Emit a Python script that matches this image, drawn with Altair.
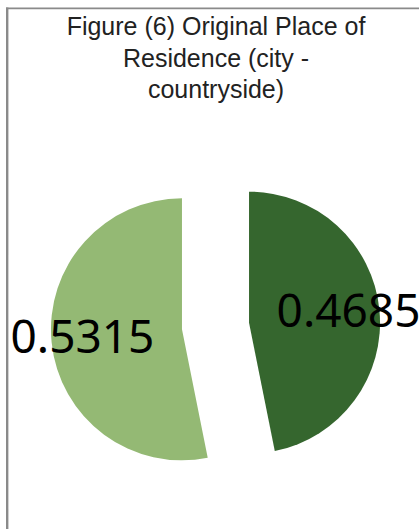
import altair as alt
import pandas as pd

categories = ["City", "Countryside"]
values = [0.4685, 0.5315]
title_lines = ["Figure (6) Original Place of", "Residence (city -", "countryside)"]

df = pd.DataFrame({"category": categories, "value": values})
title_df = pd.DataFrame({"line": title_lines})

CX, CY = 215.5, 326      # pie centre
EXPLODE = 33.7           # slice explosion distance
R = 131                  # pie radius
LR = 100                 # label distance from slice vertex
TX, TY, TLH = 216, 35, 31.5   # title centre x, first baseline, line height

base = alt.Chart(df).transform_window(
    idx="row_number()"
).transform_window(
    cum="sum(value)", sort=[alt.SortField("idx")], frame=[None, 0]
).transform_calculate(
    start="datum.cum - datum.value",
    mid="(datum.cum - datum.value / 2) * 2 * PI",
).transform_calculate(
    cx=f"{CX} + {EXPLODE} * sin(datum.mid)",
    cy=f"{CY} - {EXPLODE} * cos(datum.mid)",
).transform_calculate(
    lx=f"datum.cx + {LR} * sin(datum.mid)",
    ly=f"datum.cy - {LR} * cos(datum.mid)",
)

arcs = base.mark_arc(outerRadius=R, stroke=None).encode(
    x=alt.X("cx:Q", scale=None),
    y=alt.Y("cy:Q", scale=None),
    theta=alt.Theta("start:Q", scale=alt.Scale(domain=[0, 1], range=[0, 6.283185307])),
    theta2=alt.Theta2("cum:Q"),
    color=alt.Color("category:N", scale=alt.Scale(domain=categories, range=["#35662E", "#94B974"]), legend=None),
)

labels = base.mark_text(font="Noto Sans", fontSize=46, color="#000000", align="center", baseline="middle").encode(
    x=alt.X("lx:Q", scale=None),
    y=alt.Y("ly:Q", scale=None),
    text=alt.Text("value:Q", format=".4f"),
)

title = alt.Chart(title_df).transform_window(
    i="row_number()"
).transform_calculate(
    ty=f"{TY} + (datum.i - 1) * {TLH}"
).mark_text(
    font="Liberation Sans", fontSize=25, color="#222222", align="center", baseline="alphabetic"
).encode(
    x=alt.value(TX),
    y=alt.Y("ty:Q", scale=None),
    text="line:N",
)

one = pd.DataFrame({"a": [0]})
top_rule = alt.Chart(one).mark_rect(color="#8a8a8a").encode(
    x=alt.value(6), x2=alt.value(419), y=alt.value(7.5), y2=alt.value(9.2)
)
left_rule = alt.Chart(one).mark_rect(color="#8a8a8a").encode(
    x=alt.value(6), x2=alt.value(8.4), y=alt.value(7.5), y2=alt.value(529)
)

chart = alt.layer(arcs, labels, title, top_rule, left_rule).properties(
    width=419,
    height=529,
    padding=0,
    autosize=alt.AutoSizeParams(type="none"),
).configure_view(stroke=None)

chart.save("out.html", embed_options={"renderer": "svg", "actions": False})
